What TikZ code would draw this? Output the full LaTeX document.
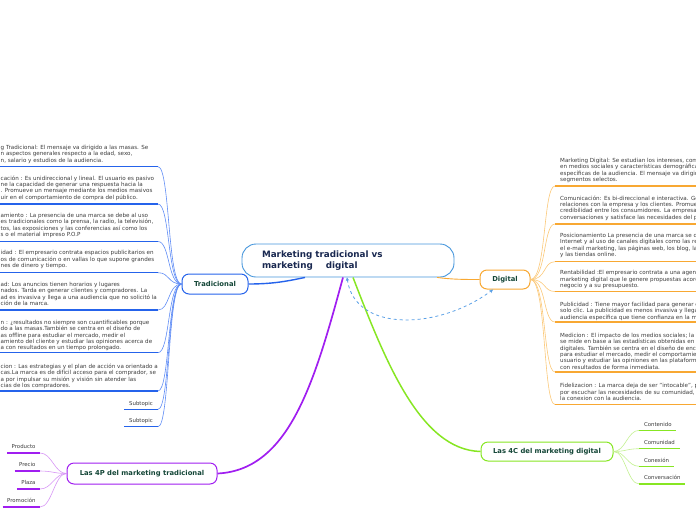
\documentclass[tikz,border=0pt]{standalone}
\usepackage{fontspec}
\setmainfont{DejaVu Sans}
\usetikzlibrary{arrows.meta}
\definecolor{cblue}{RGB}{70,150,220}
\definecolor{tblue}{RGB}{37,99,235}
\definecolor{tbluel}{RGB}{95,140,245}
\definecolor{orng}{RGB}{248,168,50}
\definecolor{orngl}{RGB}{251,200,120}
\definecolor{purp}{RGB}{160,30,240}
\definecolor{purpl}{RGB}{215,150,245}
\definecolor{grn}{RGB}{135,230,35}
\definecolor{grnl}{RGB}{195,240,145}
\definecolor{dashc}{RGB}{90,160,230}
\definecolor{lbl}{RGB}{20,70,55}
\definecolor{ttl}{RGB}{25,40,80}
\definecolor{bodytxt}{RGB}{60,60,60}
\begin{document}
\begin{tikzpicture}[x=1pt,y=-1pt,
  mainbox/.style={draw=cblue,line width=0.9pt,rounded corners=14pt,fill=white,
    minimum width=212pt,minimum height=33pt,text width=172pt,inner xsep=20pt,inner ysep=0pt,
    align=left,font=\fontsize{8.8}{11}\selectfont\bfseries,text=ttl},
  topicbox/.style={rounded corners=7pt,line width=1pt,fill=white,inner sep=0pt,
    font=\fontsize{6.8}{8}\selectfont\bfseries,text=lbl},
  lblk/.style={anchor=north west,align=left,inner sep=0pt,
    font=\fontsize{5.6}{6.45}\selectfont,text=bodytxt},
  sublbl/.style={inner xsep=5pt,inner ysep=2.8pt,text height=4pt,text depth=1.3pt,
    font=\fontsize{5.4}{6.45}\selectfont,text=bodytxt},
  bunder/.style={draw=tblue,line width=1.5pt},
  bconn/.style={draw=tbluel,line width=0.6pt},
  ounder/.style={draw=orng,line width=1.5pt},
  oconn/.style={draw=orngl,line width=0.6pt},
  punder/.style={draw=purp,line width=1.4pt},
  pconn/.style={draw=purpl,line width=0.6pt},
  gunder/.style={draw=grn,line width=1.4pt},
  gconn/.style={draw=grnl,line width=0.6pt}
]
\path[use as bounding box] (0,0) rectangle (696,520);
\clip (0,0) rectangle (696,520);

% main connectors (drawn first, under nodes)
\node[mainbox] (ctr) at (348,260.5) {Marketing tradicional vs\\marketing\hspace{13pt}digital};
\node[topicbox,draw=tblue,minimum width=66pt,minimum height=20pt] (trad) at (215,284) {Tradicional};
\node[topicbox,draw=orng,minimum width=50pt,minimum height=19pt] (dig) at (505,279.5) {Digital};
\node[topicbox,draw=purp,minimum width=150pt,minimum height=21pt] (p4) at (142,473.5) {Las 4P del marketing tradicional};
\node[topicbox,draw=grn,minimum width=132pt,minimum height=19pt] (c4) at (547,451.5) {Las 4C del marketing digital};

\draw[draw=tblue,line width=1.4pt] (trad.east) .. controls +(27,0) and +(-15,3) .. ([xshift=-43pt]ctr.south);
\draw[draw=orng,line width=0.9pt] ([xshift=89pt]ctr.south) .. controls +(15,2) and +(-15,0) .. (dig.west);
\draw[draw=purp,line width=1.7pt] ([xshift=-5pt]ctr.south) .. controls (315,380) and (290,470) .. (p4.east);
\draw[draw=grn,line width=1.5pt] ([xshift=5pt]ctr.south) .. controls (385,360) and (420,450) .. (c4.west);
\draw[draw=dashc,line width=0.8pt,dashed,{Stealth[length=3.5pt,width=3.5pt]}-{Stealth[length=3.5pt,width=3.5pt]}]
  ([xshift=-1pt]ctr.south) .. controls +(8,56) and +(-53,40) .. ([xshift=-12pt]dig.south);

% ---------- Tradicional children ----------
\node[lblk] (l1) at (0.5,145) {g Tradicional: El mensaje va dirigido a las masas. Se\\n aspectos generales respecto a la edad, sexo,\\n, salario y estudios de la audiencia.};
\node[lblk] (l2) at (0.5,175.4) {cación : Es unidireccional y lineal. El usuario es pasivo\\ne la capacidad de generar una respuesta hacia la\\. Promueve un mensaje mediante los medios masivos\\uir en el comportamiento de compra del público.};
\node[lblk] (l3) at (0.5,213) {amiento : La presencia de una marca se debe al uso\\es tradicionales como la prensa, la radio, la televisión,\\tos, las exposiciones y las conferencias así como los\\s o el material impreso P.O.P};
\node[lblk] (l4) at (0.5,250.2) {idad : El empresario contrata espacios publicitarios en\\os de comunicación o en vallas lo que supone grandes\\nes de dinero y tiempo.};
\node[lblk] (l5) at (0.5,281.7) {ad: Los anuncios tienen horarios y lugares\\nados. Tarda en generar clientes y compradores. La\\ad es invasiva y llega a una audiencia que no solicitó la\\ción de la marca.};
\node[lblk] (l6) at (0.5,319.7) {n : ¿resultados no siempre son cuantificables porque\\do a las masas.También se centra en el diseño de\\as offline para estudiar el mercado, medir el\\amiento del cliente y estudiar las opiniones acerca de\\a con resultados en un tiempo prolongado.};
\node[lblk] (l7) at (0.5,363.7) {cion : Las estrategias y el plan de acción va orientado a\\cas.La marca es de difícil acceso para el comprador, se\\a por impulsar su misión y visión sin atender las\\cias de los compradores.};
\coordinate (l1e) at (158,166.7);
\coordinate (l2e) at (158,204);
\coordinate (l3e) at (158,241.5);
\coordinate (l4e) at (158,272.7);
\coordinate (l5e) at (158,310);
\coordinate (l6e) at (158,352.7);
\coordinate (l7e) at (158,391);
\foreach \k in {l1e,l2e,l3e,l4e,l5e,l6e,l7e}{
  \draw[bconn] (\k) .. controls +(12,0) and +(-14,0) .. (trad.west);
  \draw[bunder] (\k) -- ++(-170,0);
}
\node[sublbl,anchor=south east] (s1) at (158,409.3) {Subtopic};
\node[sublbl,anchor=south east] (s2) at (158,426.7) {Subtopic};
\foreach \k in {s1,s2}{
  \draw[bconn] (\k.south east) .. controls +(12,0) and +(-14,0) .. (trad.west);
  \draw[bunder] (\k.south west) -- (\k.south east);
}

% ---------- Digital children ----------
\node[lblk] (r1) at (560,157.7) {Marketing Digital: Se estudian los intereses, com\\en medios sociales y características demográficas\\específicas de la audiencia. El mensaje va dirigido\\segmentos selectos.};
\node[lblk] (r2) at (560,195.4) {Comunicación: Es bi-direccional e interactiva. Ge\\relaciones con la empresa y los clientes. Promuev\\credibilidad entre los consumidores. La empresa\\conversaciones y satisface las necesidades del pú};
\node[lblk] (r3) at (560,233) {Posicionamiento La presencia de una marca se de\\Internet y al uso de canales digitales como las re\\el e-mail marketing, las páginas web, los blog, la\\y las tiendas online.};
\node[lblk] (r4) at (560,270.4) {Rentabilidad :El empresario contrata a una agen\\marketing digital que le genere propuestas acord\\negocio y a su presupuesto.};
\node[lblk] (r5) at (560,301.7) {Publicidad : Tiene mayor facilidad para generar c\\solo clic. La publicidad es menos invasiva y llega\\audiencia específica que tiene confianza en la ma};
\node[lblk] (r6) at (560,332.7) {Medicion : El impacto de los medios sociales; la v\\se mide en base a las estadísticas obtenidas en la\\digitales. También se centra en el diseño de encu\\para estudiar el mercado, medir el comportamien\\usuario y estudiar las opiniones en las plataform\\con resultados de forma inmediata.};
\node[lblk] (r7) at (560,383.2) {Fidelizacion : La marca deja de ser "intocable", p\\por escuchar las necesidades de su comunidad, lo\\la conexion con la audiencia.};
\coordinate (r1s) at (555,186);
\coordinate (r2s) at (555,224);
\coordinate (r3s) at (555,261.7);
\coordinate (r4s) at (555,291.5);
\coordinate (r5s) at (555,322);
\coordinate (r6s) at (555,372);
\coordinate (r7s) at (555,404.5);
\foreach \k in {r1s,r2s,r3s,r4s,r5s,r6s,r7s}{
  \draw[oconn] (dig.east) .. controls +(16,0) and +(-12,0) .. (\k);
  \draw[ounder] (\k) -- ++(150,0);
}

% ---------- 4P children ----------
\node[sublbl,anchor=south east,inner xsep=4.3pt] (pp1) at (40,453) {Producto};
\node[sublbl,anchor=south east,inner xsep=4.3pt] (pp2) at (40,471) {Precio};
\node[sublbl,anchor=south east,inner xsep=4.3pt] (pp3) at (40,489) {Plaza};
\node[sublbl,anchor=south east,inner xsep=4.3pt] (pp4) at (40,507) {Promoción};
\foreach \k in {pp1,pp2,pp3,pp4}{
  \draw[pconn] (\k.south east) .. controls +(12,0) and +(-12,0) .. (p4.west);
  \draw[punder] (\k.south west) -- (\k.south east);
}

% ---------- 4C children ----------
\node[sublbl,anchor=south west,inner xsep=4.5pt] (cc1) at (639.3,430.3) {Contenido};
\node[sublbl,anchor=south west,inner xsep=4.5pt] (cc2) at (639.3,448.7) {Comunidad};
\node[sublbl,anchor=south west,inner xsep=4.5pt] (cc3) at (639.3,466.3) {Conexión};
\node[sublbl,anchor=south west,inner xsep=4.5pt] (cc4) at (639.3,484) {Conversación};
\foreach \k in {cc1,cc2,cc3,cc4}{
  \draw[gconn] (c4.east) .. controls +(12,0) and +(-12,0) .. (\k.south west);
  \draw[gunder] (\k.south west) -- (\k.south east);
}
\end{tikzpicture}
\end{document}
